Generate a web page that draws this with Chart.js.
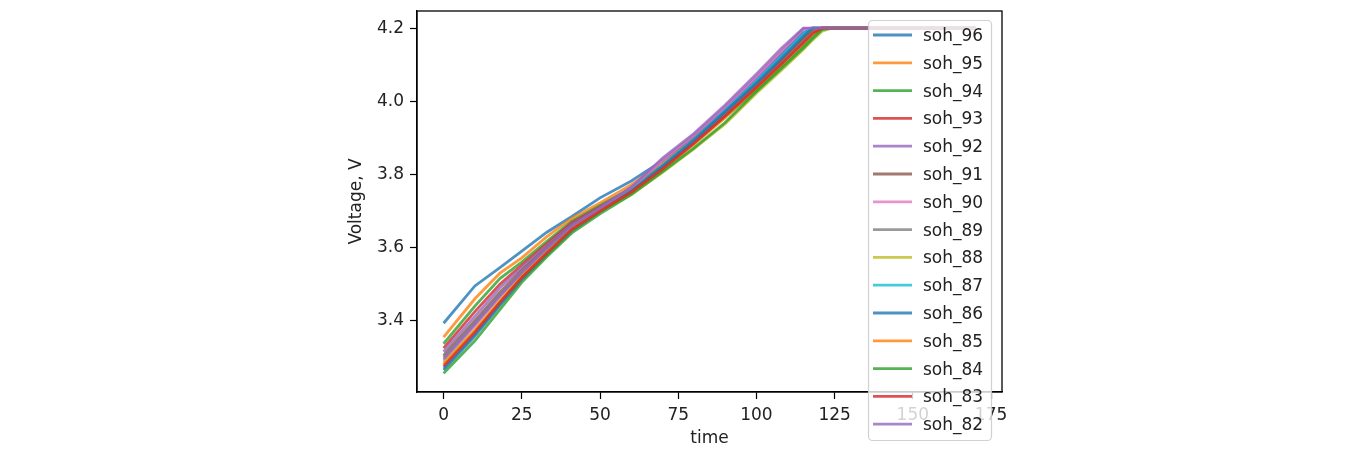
<!DOCTYPE html>
<html lang="en">
<head>
    <meta charset="UTF-8">
    <title>Voltage vs time</title>
    <script src="https://cdn.jsdelivr.net/npm/chart.js"></script>
    <style>
        body { margin: 0; background: #fff; }
    </style>
</head>
<body>
    <canvas id="myChart" width="1360" height="457"></canvas>
<script>
    // time axis (shared by every series)
    const time = [0, 10, 18, 25, 33, 41, 50, 60, 70, 80, 90, 100, 108, 115, 118, 121, 124, 170];

    const soh_96 = [3.393, 3.495, 3.545, 3.590, 3.642, 3.685, 3.736, 3.782, 3.838, 3.905, 3.980, 4.060, 4.128, 4.188, 4.200, 4.200, 4.200, 4.200];
    const soh_95 = [3.355, 3.460, 3.530, 3.572, 3.630, 3.680, 3.722, 3.772, 3.830, 3.898, 3.970, 4.043, 4.110, 4.168, 4.192, 4.200, 4.200, 4.200];
    const soh_94 = [3.337, 3.440, 3.515, 3.560, 3.617, 3.672, 3.715, 3.762, 3.818, 3.886, 3.958, 4.030, 4.095, 4.152, 4.178, 4.200, 4.200, 4.200];
    const soh_93 = [3.325, 3.425, 3.500, 3.552, 3.610, 3.668, 3.712, 3.762, 3.822, 3.892, 3.966, 4.045, 4.110, 4.170, 4.195, 4.200, 4.200, 4.200];
    const soh_92 = [3.315, 3.412, 3.490, 3.545, 3.605, 3.665, 3.710, 3.764, 3.838, 3.905, 3.980, 4.065, 4.135, 4.198, 4.200, 4.200, 4.200, 4.200];
    const soh_91 = [3.305, 3.400, 3.478, 3.538, 3.600, 3.662, 3.708, 3.760, 3.825, 3.895, 3.970, 4.048, 4.115, 4.175, 4.198, 4.200, 4.200, 4.200];
    const soh_90 = [3.290, 3.385, 3.465, 3.530, 3.595, 3.658, 3.706, 3.762, 3.840, 3.908, 3.985, 4.068, 4.138, 4.198, 4.200, 4.200, 4.200, 4.200];
    const soh_89 = [3.300, 3.395, 3.472, 3.532, 3.595, 3.658, 3.705, 3.756, 3.818, 3.888, 3.962, 4.040, 4.105, 4.165, 4.190, 4.200, 4.200, 4.200];
    const soh_88 = [3.285, 3.375, 3.455, 3.522, 3.588, 3.650, 3.698, 3.745, 3.806, 3.870, 3.938, 4.022, 4.085, 4.142, 4.168, 4.192, 4.200, 4.200];
    const soh_87 = [3.270, 3.362, 3.445, 3.515, 3.583, 3.648, 3.700, 3.756, 3.825, 3.895, 3.975, 4.055, 4.122, 4.182, 4.200, 4.200, 4.200, 4.200];
    const soh_86 = [3.265, 3.358, 3.442, 3.512, 3.580, 3.645, 3.698, 3.754, 3.822, 3.893, 3.972, 4.050, 4.118, 4.178, 4.200, 4.200, 4.200, 4.200];
    const soh_85 = [3.280, 3.372, 3.452, 3.520, 3.586, 3.650, 3.700, 3.750, 3.812, 3.882, 3.955, 4.035, 4.100, 4.158, 4.185, 4.200, 4.200, 4.200];
    const soh_84 = [3.256, 3.345, 3.430, 3.505, 3.575, 3.640, 3.692, 3.745, 3.808, 3.872, 3.942, 4.027, 4.090, 4.146, 4.172, 4.196, 4.200, 4.200];
    const soh_83 = [3.275, 3.368, 3.450, 3.518, 3.585, 3.650, 3.700, 3.752, 3.815, 3.885, 3.960, 4.038, 4.102, 4.160, 4.186, 4.200, 4.200, 4.200];
    const soh_82 = [3.295, 3.390, 3.468, 3.532, 3.598, 3.660, 3.708, 3.765, 3.845, 3.912, 3.990, 4.075, 4.145, 4.200, 4.200, 4.200, 4.200, 4.200];

    const seriesNames = ['soh_96', 'soh_95', 'soh_94', 'soh_93', 'soh_92', 'soh_91', 'soh_90', 'soh_89',
                         'soh_88', 'soh_87', 'soh_86', 'soh_85', 'soh_84', 'soh_83', 'soh_82'];
    const seriesValues = [soh_96, soh_95, soh_94, soh_93, soh_92, soh_91, soh_90, soh_89,
                          soh_88, soh_87, soh_86, soh_85, soh_84, soh_83, soh_82];

    const xTicks = [0, 25, 50, 75, 100, 125, 150, 175];
    const yTicks = [3.4, 3.6, 3.8, 4.0, 4.2];

    // matplotlib tab10 cycle, a bit see-through
    const palette = ['31,119,180', '255,127,14', '44,160,44', '214,39,40', '148,103,189',
                     '140,86,75', '227,119,194', '127,127,127', '188,189,34', '23,190,207'];

    const FONT = '"DejaVu Sans", sans-serif';

    const datasets = seriesNames.map((name, i) => ({
        label: name,
        data: time.map((t, j) => ({ x: t, y: seriesValues[i][j] })),
        borderColor: 'rgba(' + palette[i % palette.length] + ',0.8)',
        borderWidth: 2.8,
        pointRadius: 0,
        tension: 0,
        fill: false,
        order: seriesNames.length - i // later series on top, like matplotlib
    }));

    // frame on all four sides + legend box that hangs over the axes
    const framePlugin = {
        id: 'frameAndLegend',
        afterDraw(chart) {
            const ctx = chart.ctx;
            const a = chart.chartArea;
            ctx.save();
            ctx.strokeStyle = '#000';
            ctx.lineWidth = 1.3;
            ctx.strokeRect(a.left, a.top, a.right - a.left, a.bottom - a.top);

            const bx = 868.5, by = 20.5, bw = 123, bh = 420;
            ctx.beginPath();
            ctx.roundRect(bx, by, bw, bh, 4);
            ctx.fillStyle = 'rgba(255,255,255,0.8)';
            ctx.fill();
            ctx.strokeStyle = 'rgba(204,204,204,0.9)';
            ctx.lineWidth = 1.2;
            ctx.stroke();

            ctx.font = '17px ' + FONT;
            ctx.textBaseline = 'middle';
            ctx.textAlign = 'left';
            chart.data.datasets.forEach((ds, i) => {
                const y = 35 + i * 27.8;
                ctx.beginPath();
                ctx.moveTo(873, y);
                ctx.lineTo(912, y);
                ctx.strokeStyle = ds.borderColor;
                ctx.lineWidth = 2.8;
                ctx.stroke();
                ctx.fillStyle = '#222';
                ctx.fillText(ds.label, 923, y + 1.5);
            });
            ctx.restore();
        }
    };

    const config = {
        type: 'line',
        data: { datasets: datasets },
        options: {
            responsive: false,
            animation: false,
            devicePixelRatio: 1,
            layout: { padding: { left: 340, right: 358, top: 11, bottom: 0 } },
            plugins: {
                legend: { display: false },
                tooltip: { enabled: false }
            },
            scales: {
                x: {
                    type: 'linear',
                    min: -8.5,
                    max: 178.5,
                    afterBuildTicks: (scale) => { scale.ticks = xTicks.map(v => ({ value: v })); },
                    afterFit: (scale) => {
                        scale.height = 65;
                        scale.paddingLeft = 0;
                        scale.paddingRight = 0;
                    },
                    grid: { drawOnChartArea: false, drawTicks: true, tickLength: 7, color: '#000', tickWidth: 1.2 },
                    border: { display: true, color: '#000', width: 1.3 },
                    ticks: {
                        color: '#222',
                        font: { family: FONT, size: 17 },
                        padding: 6,
                        maxRotation: 0,
                        autoSkip: false,
                        callback: (v) => String(v)
                    },
                    title: {
                        display: true,
                        text: 'time',
                        color: '#222',
                        font: { family: FONT, size: 17 },
                        padding: { top: 0, bottom: 8 }
                    }
                },
                y: {
                    type: 'linear',
                    min: 3.205,
                    max: 4.247,
                    afterBuildTicks: (scale) => { scale.ticks = yTicks.map(v => ({ value: v })); },
                    afterFit: (scale) => {
                        scale.width = 77;
                        scale.paddingTop = 0;
                        scale.paddingBottom = 0;
                    },
                    grid: { drawOnChartArea: false, drawTicks: true, tickLength: 7, color: '#000', tickWidth: 1.2 },
                    border: { display: true, color: '#000', width: 1.3 },
                    ticks: {
                        color: '#222',
                        font: { family: FONT, size: 17 },
                        padding: 6,
                        autoSkip: false,
                        callback: (v) => v.toFixed(1)
                    },
                    title: {
                        display: true,
                        text: 'Voltage, V',
                        color: '#222',
                        font: { family: FONT, size: 17 },
                        padding: { top: 6, bottom: 0 }
                    }
                }
            }
        },
        plugins: [framePlugin]
    };

    const myChart = new Chart(document.querySelector('#myChart'), config);
</script>
</body>
</html>
